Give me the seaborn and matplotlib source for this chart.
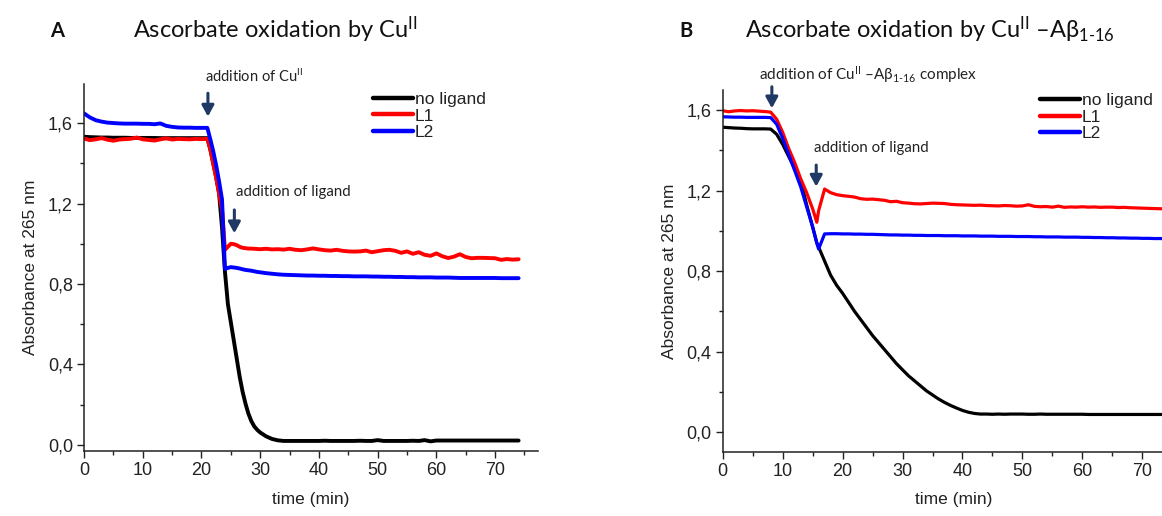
import matplotlib
matplotlib.use("Agg")
import matplotlib.pyplot as plt
from matplotlib.ticker import FixedLocator, MultipleLocator
import pandas as pd
import seaborn as sns

# ---- Panel A: ascorbate oxidation by Cu(II) ----
time_a = [0, 1, 2, 3, 4, 5, 6, 7, 8, 9, 10, 11, 12, 13, 14, 15, 16, 17, 18, 19, 20, 21,
          21.5, 22, 22.5, 23, 23.5, 24, 24.5, 25, 25.5, 26, 26.5, 27, 27.5, 28, 28.5,
          29, 29.5, 30, 31, 32, 33, 34, 35, 36, 37, 38, 39, 40, 41, 42, 43, 44, 45, 46, 47, 48,
          49, 50, 51, 52, 53, 54, 55, 56, 57, 58, 59, 60, 61, 62, 63, 64, 65, 66, 67, 68,
          69, 70, 71, 72, 73, 74]
no_ligand_a = [1.532, 1.530, 1.529, 1.528, 1.528, 1.527, 1.527, 1.527, 1.526, 1.526, 1.526,
               1.526, 1.526, 1.525, 1.525, 1.525, 1.525, 1.525, 1.525, 1.525, 1.525, 1.525,
               1.47, 1.40, 1.33, 1.25, 1.08, 0.86, 0.70, 0.61, 0.52, 0.43, 0.34, 0.265, 0.205,
               0.155, 0.118, 0.092, 0.075, 0.062, 0.043, 0.030, 0.023, 0.020, 0.020, 0.020,
               0.020, 0.020, 0.020, 0.020, 0.021, 0.020, 0.020, 0.020, 0.020, 0.020, 0.021,
               0.020, 0.020, 0.024, 0.020, 0.020, 0.020, 0.020, 0.020, 0.021, 0.020, 0.024,
               0.018, 0.022, 0.022, 0.022, 0.022, 0.022, 0.022, 0.022, 0.022, 0.022, 0.022,
               0.022, 0.022, 0.022, 0.022, 0.022]
l1_a = [1.523, 1.515, 1.519, 1.525, 1.517, 1.512, 1.518, 1.520, 1.522, 1.528, 1.519,
        1.516, 1.513, 1.519, 1.524, 1.518, 1.521, 1.520, 1.519, 1.521, 1.520, 1.521,
        1.47, 1.40, 1.33, 1.25, 1.17, 0.97, 0.985, 1.000, 0.998, 0.993, 0.985, 0.980, 0.978,
        0.976, 0.976, 0.975, 0.974, 0.973, 0.975, 0.972, 0.973, 0.971, 0.975, 0.970, 0.968,
        0.972, 0.977, 0.972, 0.968, 0.966, 0.970, 0.965, 0.962, 0.961, 0.962, 0.966, 0.958,
        0.963, 0.968, 0.970, 0.965, 0.955, 0.962, 0.950, 0.958, 0.945, 0.940, 0.952, 0.938,
        0.929, 0.936, 0.948, 0.934, 0.928, 0.930, 0.930, 0.929, 0.928, 0.920, 0.924, 0.921,
        0.923]
l2_a = [1.648, 1.628, 1.614, 1.607, 1.602, 1.600, 1.598, 1.597, 1.597, 1.597, 1.596,
        1.596, 1.594, 1.598, 1.586, 1.581, 1.578, 1.577, 1.577, 1.576, 1.576, 1.576,
        1.52, 1.46, 1.39, 1.31, 1.22, 0.875, 0.880, 0.884, 0.882, 0.880, 0.877, 0.873, 0.870,
        0.868, 0.866, 0.863, 0.860, 0.858, 0.854, 0.851, 0.848, 0.846, 0.845, 0.844, 0.843,
        0.842, 0.842, 0.841, 0.841, 0.840, 0.840, 0.839, 0.839, 0.838, 0.838, 0.838, 0.837,
        0.837, 0.836, 0.836, 0.835, 0.835, 0.834, 0.834, 0.833, 0.833, 0.833, 0.832, 0.832,
        0.832, 0.831, 0.830, 0.830, 0.830, 0.830, 0.830, 0.830, 0.830, 0.829, 0.829, 0.829,
        0.829]

# ---- Panel B: ascorbate oxidation by Cu(II)-Abeta(1-16) ----
time_b = [0, 1, 2, 3, 4, 5, 6, 7, 8, 9, 10, 11, 12, 13, 14, 15, 15.7, 16, 17, 18, 19, 20,
          21, 22, 23, 24, 25, 26, 27, 28, 29, 30, 31, 32, 33, 34, 35, 36, 37, 38, 39, 40,
          41, 42, 43, 44, 45, 46, 47, 48, 49, 50, 51, 52, 53, 54, 55, 56, 57, 58, 59, 60,
          61, 62, 63, 64, 65, 66, 67, 68, 69, 70, 71, 72, 73, 74, 75]
no_ligand_b = [1.515, 1.513, 1.511, 1.510, 1.508, 1.507, 1.507, 1.507, 1.506, 1.48, 1.43,
               1.37, 1.31, 1.25, 1.13, 1.02, 0.94, 0.92, 0.85, 0.78, 0.73, 0.69, 0.645, 0.60,
               0.56, 0.52, 0.48, 0.445, 0.41, 0.375, 0.34, 0.31, 0.28, 0.255, 0.23, 0.205,
               0.185, 0.165, 0.148, 0.133, 0.120, 0.108, 0.099, 0.093, 0.090, 0.090, 0.089,
               0.090, 0.089, 0.090, 0.090, 0.090, 0.089, 0.089, 0.090, 0.089, 0.089, 0.089,
               0.089, 0.089, 0.089, 0.089, 0.088, 0.088, 0.088, 0.088, 0.088, 0.088, 0.088,
               0.088, 0.088, 0.088, 0.088, 0.088, 0.088, 0.088, 0.088]
l1_b = [1.597, 1.592, 1.596, 1.598, 1.596, 1.597, 1.595, 1.593, 1.590, 1.555, 1.49, 1.41,
        1.34, 1.26, 1.19, 1.11, 1.043, 1.10, 1.208, 1.19, 1.18, 1.175, 1.172, 1.168, 1.160,
        1.157, 1.158, 1.155, 1.152, 1.145, 1.147, 1.140, 1.138, 1.135, 1.134, 1.136, 1.138,
        1.137, 1.136, 1.132, 1.130, 1.129, 1.128, 1.127, 1.128, 1.126, 1.125, 1.124, 1.126,
        1.125, 1.123, 1.124, 1.130, 1.122, 1.120, 1.121, 1.118, 1.123, 1.117, 1.119, 1.118,
        1.120, 1.118, 1.119, 1.117, 1.118, 1.118, 1.116, 1.117, 1.115, 1.114, 1.113, 1.112,
        1.111, 1.110, 1.109, 1.109]
l2_b = [1.567, 1.566, 1.565, 1.565, 1.564, 1.564, 1.564, 1.564, 1.563, 1.53, 1.46, 1.38,
        1.30, 1.22, 1.12, 1.02, 0.94, 0.91, 0.985, 0.986, 0.986, 0.985, 0.985, 0.984, 0.984,
        0.983, 0.983, 0.982, 0.981, 0.980, 0.980, 0.979, 0.979, 0.978, 0.978, 0.977, 0.977,
        0.977, 0.976, 0.976, 0.976, 0.975, 0.975, 0.975, 0.974, 0.974, 0.974, 0.973, 0.973,
        0.973, 0.972, 0.972, 0.972, 0.971, 0.971, 0.970, 0.970, 0.970, 0.969, 0.969, 0.969,
        0.968, 0.968, 0.967, 0.967, 0.966, 0.966, 0.965, 0.965, 0.964, 0.964, 0.963, 0.963,
        0.962, 0.962, 0.961, 0.961]

series_labels = ["no ligand", "L1", "L2"]
series_colors = ["#000000", "#ff0000", "#0000ff"]
ytick_values = [0.0, 0.4, 0.8, 1.2, 1.6]
ytick_labels = ["0,0", "0,4", "0,8", "1,2", "1,6"]
xtick_values = [0, 10, 20, 30, 40, 50, 60, 70]

sns.set_theme(style="ticks")
plt.rcParams["font.family"] = ["Liberation Sans", "DejaVu Sans"]
plt.rcParams["mathtext.fontset"] = "custom"
plt.rcParams["mathtext.rm"] = "Lato"
plt.rcParams["mathtext.it"] = "Lato:italic"
plt.rcParams["mathtext.bf"] = "Lato:bold"

CAL = ["Lato", "DejaVu Sans"]
ARROW = "#1f3864"
TICK_FS = 13
LABEL_FS = 12.5

fig = plt.figure(figsize=(11.62, 5.16), dpi=100)
ax_a = fig.add_axes([84 / 1162, 65 / 516, 454 / 1162, 367 / 516])
ax_b = fig.add_axes([722.7 / 1162, 64.3 / 516, 461.6 / 1162, 361.7 / 516])


def draw_panel(ax, t, series, lw, xlim, ylim):
    for vals, lab, col in zip(series, series_labels, series_colors):
        df = pd.DataFrame({"time": t, "abs": vals})
        sns.lineplot(data=df, x="time", y="abs", ax=ax, color=col, lw=lw,
                     label=lab, estimator=None, sort=False)
    ax.set_xlim(*xlim)
    ax.set_ylim(*ylim)
    ax.xaxis.set_major_locator(FixedLocator(xtick_values))
    ax.xaxis.set_minor_locator(MultipleLocator(5))
    ax.yaxis.set_major_locator(FixedLocator(ytick_values))
    ax.set_yticklabels(ytick_labels)
    ax.yaxis.set_minor_locator(MultipleLocator(0.2))
    ax.tick_params(which="major", length=5, width=1.0, color="#222222",
                   labelsize=TICK_FS, labelcolor="#222222", pad=3)
    ax.tick_params(which="minor", length=3, width=1.0, color="#222222")
    for s in ("top", "right"):
        ax.spines[s].set_visible(False)
    for s in ("left", "bottom"):
        ax.spines[s].set_linewidth(1.1)
        ax.spines[s].set_color("#222222")
    ax.set_xlabel("time (min)", fontsize=LABEL_FS, color="#222222", labelpad=9)
    ax.set_ylabel("Absorbance at 265 nm", fontsize=LABEL_FS, color="#222222", labelpad=7)


draw_panel(ax_a, time_a, [no_ligand_a, l1_a, l2_a], 2.8, (0, 77.3), (-0.03, 1.794))
draw_panel(ax_b, time_b, [no_ligand_b, l1_b, l2_b], 2.3, (0, 77), (-0.097, 1.70))


def add_legend(ax, anchor):
    leg = ax.legend(loc="upper left", bbox_to_anchor=anchor, bbox_transform=ax.transData,
                    frameon=False, fontsize=LABEL_FS, handlelength=2.3, handletextpad=0.12,
                    labelspacing=0.08, borderpad=0, borderaxespad=0)
    for ln in leg.get_lines():
        ln.set_linewidth(3.2)
    for txt in leg.get_texts():
        txt.set_color("#222222")


add_legend(ax_a, (49.2, 1.755))
add_legend(ax_b, (52.9, 1.685))


def arrow(ax, x, y_top, y_bot):
    ax.annotate("", xy=(x, y_bot), xytext=(x, y_top), annotation_clip=False,
                arrowprops=dict(arrowstyle="-|>,head_length=0.55,head_width=0.3",
                                color=ARROW, lw=2.2, shrinkA=0, shrinkB=0))


# event markers, panel A
ax_a.text(20.6, 1.83, "addition of Cu$^{\\mathrm{II}}$", family=CAL, fontsize=10.5,
          color="#222222", va="center", ha="left", clip_on=False)
arrow(ax_a, 21.1, 1.748, 1.632)
ax_a.text(25.8, 1.259, "addition of ligand", family=CAL, fontsize=10.8,
          color="#222222", va="center", ha="left")
arrow(ax_a, 25.6, 1.168, 1.052)

# event markers, panel B
ax_b.text(6.1, 1.779, "addition of Cu$^{\\mathrm{II}}$ \u2013A\u03b2$_{\\text{1-16}}$ complex",
          family=CAL, fontsize=11, color="#222222", va="center", ha="left", clip_on=False)
arrow(ax_b, 8.2, 1.716, 1.609)
ax_b.text(15.25, 1.41, "addition of ligand", family=CAL, fontsize=10.8,
          color="#222222", va="center", ha="left")
arrow(ax_b, 15.6, 1.327, 1.22)

# panel letters and titles
fig.text(57 / 1162, 1 - 31 / 516, "A", family=CAL, fontsize=14.5, fontweight="bold",
         ha="center", va="center", color="#111111")
fig.text(133 / 1162, 1 - 30 / 516, "Ascorbate oxidation by Cu$^{\\mathrm{II}}$", family=CAL,
         fontsize=17, ha="left", va="center", color="#111111")
fig.text(686 / 1162, 1 - 31 / 516, "B", family=CAL, fontsize=14.5, fontweight="bold",
         ha="center", va="center", color="#111111")
fig.text(745 / 1162, 1 - 30 / 516,
         "Ascorbate oxidation by Cu$^{\\mathrm{II}}$ \u2013A\u03b2$_{\\text{1-16}}$",
         family=CAL, fontsize=17, ha="left", va="center", color="#111111")

fig.savefig("out.png", dpi=100)
